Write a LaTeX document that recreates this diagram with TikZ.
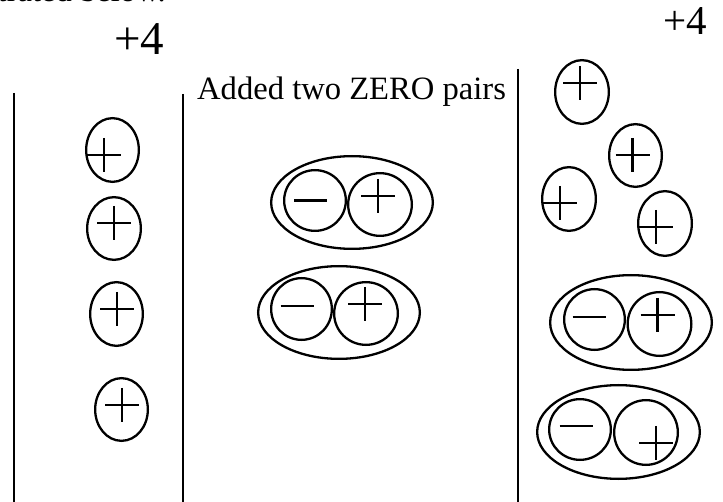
\documentclass[tikz,border=0pt]{standalone}
\usepackage{fontspec}
\setmainfont{Liberation Serif}
\usetikzlibrary{shapes.geometric}
\newcommand\pmark[2]{\draw[sign] (#1-17,#2) -- (#1+17,#2) (#1,#2-17) -- (#1,#2+17);}
\newcommand\mmark[2]{\draw[sign] (#1-16.5,#2) -- (#1+16.5,#2);}
\begin{document}
\begin{tikzpicture}[x=1pt,y=-1pt,
  chip/.style={draw, ellipse, inner sep=0pt, line width=2.3pt},
  sign/.style={line width=2.5pt},
  divider/.style={line width=2pt},
  big/.style={font=\fontsize{47}{50}\selectfont, inner sep=0pt},
  label/.style={font=\fontsize{32.6}{36}\selectfont, inner sep=0pt}]
\useasboundingbox (0,0) rectangle (723,502);
\clip (0,0) rectangle (723,502);

% texts
\node[label, anchor=base east] (top) at (166,2) {illustrated below.};
\node[big, anchor=base west] (fourL) at (114,55) {+4};
\node[big, font=\fontsize{41}{44}\selectfont, anchor=base west] (fourR) at (663,35) {+4};
\node[label, anchor=base west] (added) at (197,100) {Added two ZERO pairs};

% dividers
\coordinate (d1t) at (13.5,93);  \coordinate (d1b) at (13.5,504);
\coordinate (d2t) at (182.5,94); \coordinate (d2b) at (182.5,504);
\coordinate (d3t) at (517.5,69); \coordinate (d3b) at (517.5,504);
\draw[divider] (d1t) -- (d1b);
\draw[divider] (d2t) -- (d2b);
\draw[divider] (d3t) -- (d3b);

% left column: four positives
\node[chip, minimum width=52.7, minimum height=63.7] (l1) at (112.5,150) {};
\node[chip, minimum width=53.7, minimum height=62.7] (l2) at (114,228.5) {};
\node[chip, minimum width=52.7, minimum height=63.7] (l3) at (116.5,314) {};
\node[chip, minimum width=52.7, minimum height=62.7] (l4) at (121.5,409.5) {};
\pmark{104}{155}
\pmark{114}{223}
\pmark{117}{309}
\pmark{122}{405}

% middle: two zero pairs
\node[chip, minimum width=161.7, minimum height=92.7] (m1) at (352,202.5) {};
\node[chip, minimum width=61.7, minimum height=60.7] (m1n) at (315,200.5) {};
\node[chip, minimum width=63.7, minimum height=62.7] (m1p) at (380,204.5) {};
\mmark{310.5}{200.5}
\pmark{378}{196}

\node[chip, minimum width=161.7, minimum height=92.7] (m2) at (339,312.5) {};
\node[chip, minimum width=60.7, minimum height=61.7] (m2n) at (301.5,309) {};
\node[chip, minimum width=63.7, minimum height=62.7] (m2p) at (366,313.5) {};
\mmark{297}{306}
\pmark{365}{304}

% right column: four positives
\node[chip, minimum width=53.7, minimum height=63.7] (r1) at (582,92) {};
\node[chip, minimum width=52.7, minimum height=62.7] (r2) at (635.5,155.5) {};
\node[chip, minimum width=53.7, minimum height=63.7] (r3) at (569,199) {};
\node[chip, minimum width=53.7, minimum height=64.7] (r4) at (665,223.5) {};
\pmark{580}{83}
\pmark{632.5}{155}
\pmark{560}{203}
\pmark{656}{227}

% right column: two zero pairs
\node[chip, minimum width=161.7, minimum height=94.7] (r5) at (631,322.5) {};
\node[chip, minimum width=60.7, minimum height=60.7] (r5n) at (594.5,319.5) {};
\node[chip, minimum width=63.7, minimum height=63.7] (r5p) at (659.5,324) {};
\mmark{589}{317}
\pmark{657.5}{315}

\node[chip, minimum width=162.7, minimum height=93.7] (r6) at (618.5,432) {};
\node[chip, minimum width=61.7, minimum height=60.7] (r6n) at (580,429.5) {};
\node[chip, minimum width=63.7, minimum height=64.7] (r6p) at (646,432.5) {};
\mmark{576}{426}
\pmark{656}{443}
\end{tikzpicture}
\end{document}
